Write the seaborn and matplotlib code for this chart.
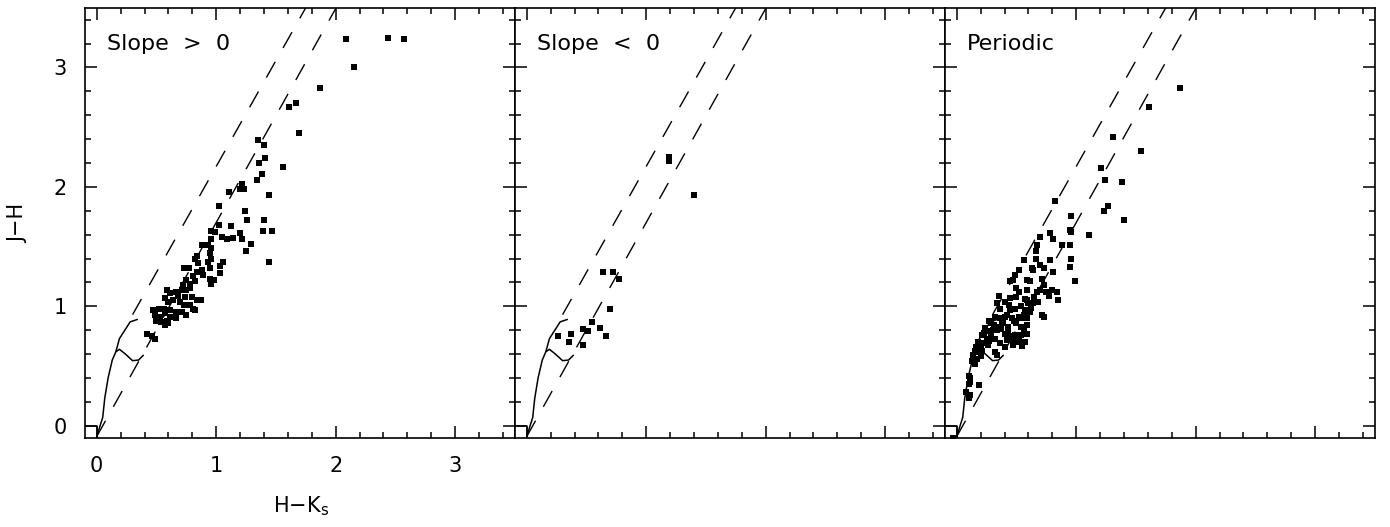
import matplotlib
matplotlib.use("Agg")
import matplotlib.pyplot as plt
import seaborn as sns
import pandas as pd
from matplotlib.ticker import MultipleLocator

# ---------------- data ----------------
panel_titles = ["Slope  >  0", "Slope  <  0", "Periodic"]
x_ticks = [0, 1, 2, 3]
y_ticks = [0, 1, 2, 3]
x_label = "H\u2212K$_\\mathregular{s}$"
y_label = "J\u2212H"

p1_hk = [2.09, 2.44, 2.57, 2.15, 1.87, 1.61, 1.67, 1.69, 1.35, 1.40, 1.41, 1.36, 1.56, 1.38, 1.34,
         1.11, 1.20, 1.23, 1.22, 1.44, 1.40, 1.39, 1.47, 1.44, 0.42,
         1.02, 1.24, 1.26, 1.02, 1.12, 0.96, 0.99, 1.05, 1.09, 1.14, 1.20, 1.22, 1.29, 1.25, 0.96,
         0.88, 0.93, 0.96, 0.95, 0.84, 0.82, 0.96, 0.93, 1.06, 1.03, 0.85, 0.73, 0.77, 0.95, 0.84,
         0.88, 0.81, 0.89, 0.95, 0.98, 0.96, 1.03, 0.75, 0.72, 0.78, 0.82, 0.71, 0.75, 0.78, 0.59,
         0.61, 0.66, 0.68, 0.74, 0.80, 0.84, 0.87, 0.57, 0.60, 0.64, 0.70, 0.73, 0.78, 0.81, 0.82,
         0.47, 0.52, 0.56, 0.61, 0.66, 0.71, 0.75, 0.49, 0.53, 0.57, 0.61, 0.66, 0.50, 0.54, 0.59,
         0.57, 0.60, 0.46, 0.49]
p1_jh = [3.24, 3.25, 3.24, 3.00, 2.83, 2.67, 2.70, 2.45, 2.39, 2.35, 2.24, 2.20, 2.17, 2.11, 2.06,
         1.96, 1.98, 1.98, 2.02, 1.93, 1.72, 1.63, 1.63, 1.37, 0.77,
         1.84, 1.80, 1.72, 1.68, 1.67, 1.63, 1.62, 1.58, 1.56, 1.57, 1.61, 1.56, 1.52, 1.46, 1.56,
         1.51, 1.51, 1.49, 1.45, 1.42, 1.40, 1.40, 1.37, 1.37, 1.34, 1.36, 1.32, 1.32, 1.32, 1.29,
         1.30, 1.25, 1.26, 1.23, 1.22, 1.19, 1.28, 1.22, 1.18, 1.19, 1.21, 1.14, 1.14, 1.15, 1.14,
         1.11, 1.12, 1.09, 1.08, 1.08, 1.05, 1.05, 1.07, 1.04, 1.05, 1.04, 1.01, 1.01, 0.98, 0.97,
         0.97, 0.98, 0.98, 0.97, 0.95, 0.95, 0.93, 0.93, 0.91, 0.94, 0.91, 0.90, 0.88, 0.87, 0.88,
         0.84, 0.86, 0.75, 0.73]

p2_hk = [1.19, 1.19, 1.40, 0.64, 0.72, 0.77, 0.70, 0.55, 0.61, 0.66, 0.47, 0.51, 0.37, 0.26, 0.35, 0.47]
p2_jh = [2.25, 2.22, 1.93, 1.29, 1.29, 1.23, 0.98, 0.87, 0.82, 0.75, 0.81, 0.79, 0.77, 0.75, 0.70, 0.68]

p3_hk = [1.87, 1.61, 1.31, 1.54, 1.21, 1.24, 1.38, 0.82, 1.27, 1.23, 1.40, 0.96, 1.11, 0.95, -0.03,
         0.96, 0.78, 0.81, 0.70, 0.67, 0.66, 0.88, 0.95, 0.96, 0.56, 0.66, 0.78, 0.70, 0.73, 0.63,
         0.64, 0.81, 0.95, 0.99, 0.52, 0.49, 0.45, 0.47, 0.59, 0.61, 0.71, 0.73, 0.50, 0.52, 0.59,
         0.67, 0.70, 0.75, 0.80, 0.84, 0.77, 0.35, 0.34, 0.40, 0.45, 0.50, 0.59, 0.60, 0.64, 0.68,
         0.85, 0.36, 0.45, 0.49, 0.54, 0.57, 0.61, 0.71, 0.73, 0.32, 0.36, 0.40, 0.46, 0.52, 0.54,
         0.59, 0.29, 0.34, 0.39, 0.43, 0.50, 0.54, 0.59,
         0.24, 0.28, 0.34, 0.21, 0.25, 0.29, 0.40, 0.45, 0.49, 0.54, 0.59, 0.18, 0.22, 0.26, 0.36,
         0.40, 0.52, 0.57, 0.15, 0.18, 0.21, 0.32, 0.34, 0.14, 0.17, 0.20, 0.13, 0.15, 0.10, 0.11,
         0.11, 0.10, 0.19, 0.08, 0.11, 0.10,
         0.27, 0.31, 0.38, 0.42, 0.48, 0.56, 0.62, 0.30, 0.37, 0.43, 0.47, 0.56, 0.23, 0.27, 0.32,
         0.42, 0.47, 0.52, 0.55, 0.20, 0.16, 0.44, 0.57, 0.65]
p3_jh = [2.83, 2.67, 2.42, 2.30, 2.16, 2.06, 2.04, 1.88, 1.84, 1.80, 1.72, 1.76, 1.60, 1.64, -0.10,
         1.62, 1.61, 1.56, 1.58, 1.51, 1.46, 1.51, 1.51, 1.40, 1.39, 1.40, 1.39, 1.35, 1.32, 1.32,
         1.30, 1.29, 1.33, 1.21, 1.30, 1.26, 1.21, 1.22, 1.22, 1.21, 1.23, 1.18, 1.15, 1.12, 1.14,
         1.12, 1.14, 1.12, 1.14, 1.12, 1.09, 1.09, 1.03, 1.04, 1.07, 1.08, 1.05, 1.03, 1.03, 1.04,
         1.05, 0.98, 0.97, 0.98, 1.00, 0.97, 0.95, 0.93, 0.91, 0.91, 0.90, 0.91, 0.90, 0.91, 0.90,
         0.90, 0.86, 0.83, 0.86, 0.83, 0.86, 0.83, 0.84,
         0.82, 0.79, 0.80, 0.76, 0.73, 0.75, 0.77, 0.75, 0.76, 0.76, 0.77, 0.70, 0.69, 0.68, 0.69,
         0.66, 0.70, 0.70, 0.63, 0.62, 0.63, 0.62, 0.59, 0.59, 0.56, 0.58, 0.54, 0.52, 0.42, 0.40,
         0.37, 0.35, 0.34, 0.28, 0.26, 0.23,
         0.88, 0.84, 0.88, 0.93, 0.88, 0.93, 0.99, 0.80, 0.81, 0.78, 0.72, 0.80, 0.78, 0.71, 0.73,
         0.72, 0.68, 0.74, 0.67, 0.66, 0.66, 1.01, 1.06, 1.08]

# intrinsic loci (dwarfs and giants)
dwarf_hk = [0.00, 0.05, 0.067, 0.095, 0.13, 0.16, 0.19, 0.24, 0.30, 0.35, 0.39]
dwarf_jh = [-0.09, 0.07, 0.23, 0.40, 0.55, 0.62, 0.64, 0.60, 0.545, 0.55, 0.59]
giant_hk = [0.16, 0.19, 0.28, 0.34]
giant_jh = [0.62, 0.73, 0.87, 0.89]
# reddening bands
red_upper_hk = [0.30, 1.75]
red_upper_jh = [0.93, 3.50]
red_lower_hk = [0.00, 2.01]
red_lower_jh = [-0.09, 3.51]
# corner box
box_hk = [-0.10, 0.00, 0.00]
box_jh = [0.00, 0.00, -0.10]

panels = [(p1_hk, p1_jh), (p2_hk, p2_jh), (p3_hk, p3_jh)]

# ---------------- style ----------------
sns.set_style("ticks")
plt.rcParams["font.family"] = ["DejaVu Sans"]
plt.rcParams["mathtext.fontset"] = "custom"
plt.rcParams["mathtext.rm"] = "DejaVu Sans"
plt.rcParams["lines.scale_dashes"] = False
plt.rcParams["text.color"] = "black"
plt.rcParams["xtick.color"] = "black"
plt.rcParams["ytick.color"] = "black"
plt.rcParams["xtick.labelcolor"] = "black"
plt.rcParams["ytick.labelcolor"] = "black"

fig = plt.figure(figsize=(13.9, 5.27), dpi=100)
W, H = 1390.0, 527.0
pw, ph = 430.0, 430.0
lefts = [84.8, 514.8, 944.8]
bottom = 1 - 437.7 / H

for i, (hk, jh) in enumerate(panels):
    ax = fig.add_axes([lefts[i] / W, bottom, pw / W, ph / H])
    df = pd.DataFrame({"hk": hk, "jh": jh})
    sns.scatterplot(data=df, x="hk", y="jh", marker="s", s=18, color="black",
                    linewidth=0, ax=ax, zorder=3, clip_on=True)
    line_kw = dict(color="black", sort=False, estimator=None, ax=ax, legend=False)
    sns.lineplot(x=dwarf_hk, y=dwarf_jh, linewidth=1.1, **line_kw)
    sns.lineplot(x=giant_hk, y=giant_jh, linewidth=1.1, **line_kw)
    sns.lineplot(x=box_hk, y=box_jh, linewidth=1.1, **line_kw)
    sns.lineplot(x=red_upper_hk, y=red_upper_jh, linewidth=1.0,
                 linestyle=(0, (13, 11.5)), **line_kw)
    sns.lineplot(x=red_lower_hk, y=red_lower_jh, linewidth=1.0,
                 linestyle=(0, (13, 11.5)), **line_kw)

    ax.set_xlim(-0.1, 3.5)
    ax.set_ylim(-0.1, 3.5)
    ax.set_xticks(x_ticks)
    ax.set_yticks(y_ticks)
    ax.xaxis.set_minor_locator(MultipleLocator(0.2))
    ax.yaxis.set_minor_locator(MultipleLocator(0.2))
    ax.tick_params(which="both", direction="in", top=True, right=True,
                   width=1.1, color="black", labelcolor="black", labelsize=15)
    ax.tick_params(axis="x", pad=13)
    ax.tick_params(axis="y", pad=13)
    ax.tick_params(which="major", length=8.5)
    ax.tick_params(which="minor", length=4.3)
    if i > 0:
        ax.tick_params(labelleft=False, labelbottom=False)
    for sp in ax.spines.values():
        sp.set_linewidth(1.2)
        sp.set_color("black")
    ax.set_xlabel("")
    ax.set_ylabel("")
    ax.text(0.052, 0.916, panel_titles[i], transform=ax.transAxes,
            ha="left", va="center", fontsize=16, color="black")

fig.text(301 / W, 1 - 506 / H, x_label, ha="center", va="center", fontsize=15, color="black")
fig.text(18 / W, 1 - 223 / H, y_label, ha="center", va="center", rotation=90,
         fontsize=15, color="black")

fig.savefig("out.png", dpi=100)
